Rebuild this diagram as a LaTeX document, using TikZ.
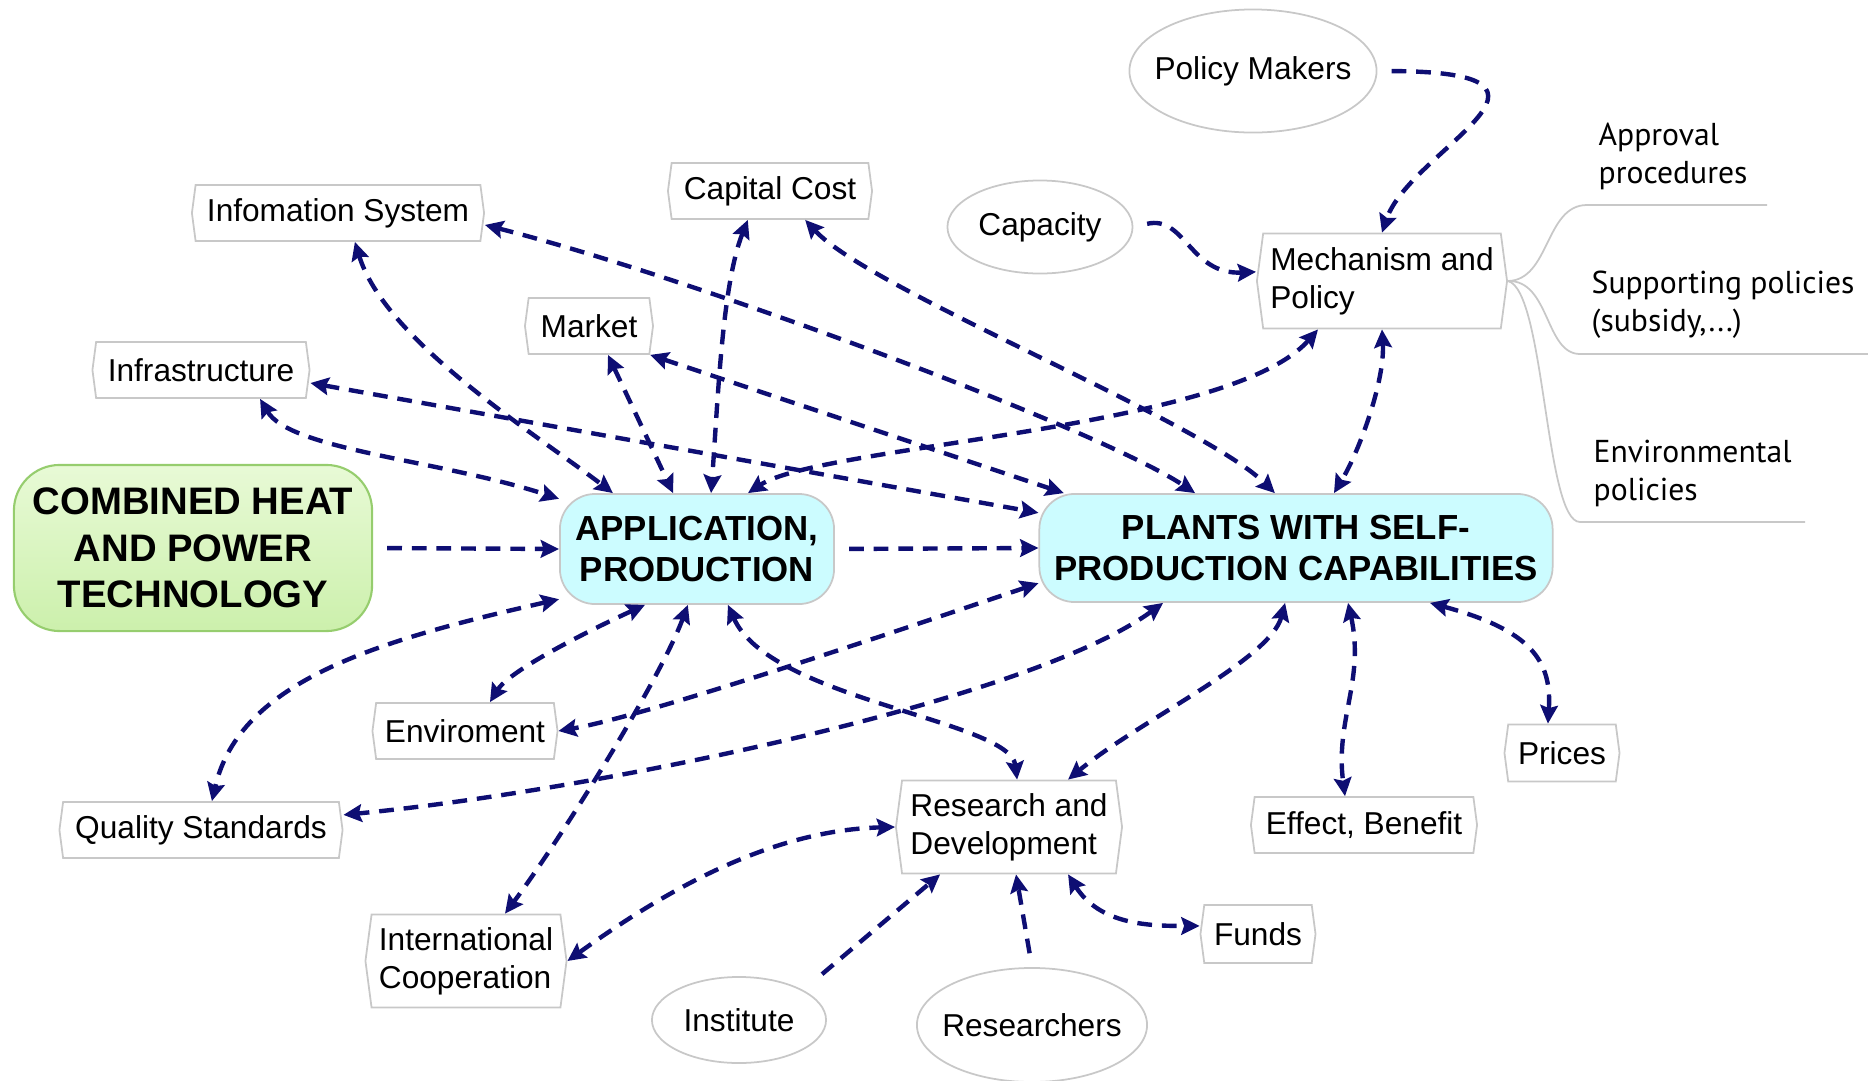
\documentclass[tikz,border=0pt]{standalone}
\usepackage{fontspec}
\setmainfont{Liberation Sans}
\newfontfamily\notefont{PT Sans}
\usetikzlibrary{arrows.meta, shapes.geometric, shapes.symbols}
\definecolor{linkblue}{RGB}{14,14,115}
\definecolor{boxgray}{RGB}{200,200,200}
\definecolor{coreblue}{RGB}{204,252,255}
\definecolor{roottop}{RGB}{232,250,214}
\definecolor{rootbottom}{RGB}{204,240,172}
\definecolor{rootline}{RGB}{150,205,110}
\tikzset{
    topic/.style={signal, signal to=east and west, signal pointer angle=165, draw=boxgray, line width=0.5pt, fill=white, inner xsep=2pt, inner ysep=1pt, font=\fontsize{9}{10.8}\selectfont},
    actor/.style={ellipse, draw=boxgray, line width=0.5pt, inner xsep=-12pt, inner ysep=0pt, font=\fontsize{9}{10.8}\selectfont},
    core/.style={rectangle, rounded corners=10pt, draw=boxgray, line width=0.5pt, fill=coreblue, align=center, font=\fontsize{9.9}{11.6}\selectfont\bfseries},
    root/.style={rectangle, rounded corners=13pt, draw=rootline, line width=0.6pt, top color=roottop, bottom color=rootbottom, align=center, font=\fontsize{10.9}{13.3}\selectfont\bfseries},
    link/.style={<->, > = {Stealth[length=5.2pt, width=5pt, inset=0.8pt]}, draw=linkblue, line width=1.25pt, dash pattern=on 4.2pt off 2.8pt},
    dlink/.style={->, > = {Stealth[length=5.2pt, width=5pt, inset=0.8pt]}, draw=linkblue, line width=1.25pt, dash pattern=on 4.2pt off 2.8pt, shorten <=4pt},
    branch/.style={draw=boxgray, line width=0.5pt},
    note/.style={anchor=west, align=left, inner sep=0pt, font=\notefont\fontsize{9}{10.8}\selectfont},
}

\begin{document}
\begin{tikzpicture}[x=0.01cm, y=-0.01cm]
    \useasboundingbox (0,0) rectangle (1868,1081);

    % main topics
    \node[root, minimum width=3.58cm, minimum height=1.66cm] (chp) at (193,548) {COMBINED HEAT\\AND POWER\\TECHNOLOGY};
    \node[core, minimum width=2.74cm, minimum height=1.10cm] (app) at (697,549) {APPLICATION,\\PRODUCTION};
    \node[core, minimum width=5.13cm, minimum height=1.08cm] (plant) at (1296,548) {PLANTS WITH SELF-\\PRODUCTION CAPABILITIES};

    % boxes
    \node[topic, minimum width=2.92cm, minimum height=0.56cm] (info) at (338,213) {Infomation System};
    \node[topic, minimum width=2.04cm, minimum height=0.56cm] (cc) at (770,191) {Capital Cost};
    \node[topic, minimum width=1.28cm, minimum height=0.56cm] (mkt) at (589,326) {Market};
    \node[topic, minimum width=2.17cm, minimum height=0.56cm] (infra) at (201,370) {Infrastructure};
    \node[topic, minimum width=2.50cm, minimum height=0.95cm, align=left] (mp) at (1382,281) {Mechanism and\\Policy};
    \node[topic, minimum width=1.85cm, minimum height=0.56cm] (env) at (465,731) {Enviroment};
    \node[topic, minimum width=1.15cm, minimum height=0.57cm] (price) at (1562,753) {Prices};
    \node[topic, minimum width=2.26cm, minimum height=0.93cm, align=left] (rd) at (1009,827) {Research and\\Development};
    \node[topic, minimum width=2.83cm, minimum height=0.56cm] (qs) at (201,830) {Quality Standards};
    \node[topic, minimum width=2.26cm, minimum height=0.56cm] (eff) at (1364,825) {Effect, Benefit};
    \node[topic, minimum width=1.15cm, minimum height=0.58cm] (fund) at (1258,934) {Funds};
    \node[topic, minimum width=2.01cm, minimum height=0.93cm, align=left] (ic) at (466,961) {International\\Cooperation};

    % actors
    \node[actor, minimum width=2.47cm, minimum height=1.23cm] (pm) at (1253,71) {Policy Makers};
    \node[actor, minimum width=1.85cm, minimum height=0.93cm] (cap) at (1040,227) {Capacity};
    \node[actor, minimum width=1.74cm, minimum height=0.86cm] (inst) at (739,1020) {Institute};
    \node[actor, minimum width=2.30cm, minimum height=1.14cm] (res) at (1032,1025) {Researchers};

    % policy branches
    \node[note] (appr) at (1598,156) {Approval\\procedures};
    \node[note] (supp) at (1591,305) {Supporting policies\\(subsidy,...)};
    \node[note] (envp) at (1593,473) {Environmental\\policies};
    \coordinate (appr1) at (1587,205);
    \coordinate (appr2) at (1767,205);
    \coordinate (supp1) at (1580,354);
    \coordinate (supp2) at (1868,354);
    \coordinate (envp1) at (1580,522);
    \coordinate (envp2) at (1805,522);
    \draw[branch] (mp.east) .. controls (1550,280) and (1545,205) .. (appr1) -- (appr2);
    \draw[branch] (mp.east) .. controls (1550,280) and (1545,354) .. (supp1) -- (supp2);
    \draw[branch] (mp.east) .. controls (1545,290) and (1545,522) .. (envp1) -- (envp2);

    % one-way links
    \draw[dlink] (pm.east) .. controls (1600,72) and (1410,150) .. (mp.north);
    \draw[dlink] (cap.east) .. controls (1185,215) and (1190,275) .. ([yshift=2.6pt]mp.west);
    \draw[dlink] (chp.east) -- (app.west);
    \draw[dlink] (app.east) -- (plant.west);
    \draw[dlink, shorten <=7pt] (inst.25) -- ([xshift=-19.6pt]rd.south);
    \draw[dlink] (res.north) -- ([xshift=2pt]rd.south);

    % two-way links round the application
    \draw[link] ([xshift=4.8pt]info.south) .. controls (385,340) and (530,430) .. ([xshift=-23.9pt]app.north);
    \draw[link] ([xshift=-6.3pt]cc.south) .. controls (722,285) and (718,400) .. ([xshift=4pt]app.north);
    \draw[link] ([xshift=5.4pt]mkt.south) -- ([xshift=-6.8pt]app.north);
    \draw[link] ([xshift=16.8pt]infra.south) .. controls (290,450) and (440,460) .. (app.160);
    \draw[link] ([xshift=-18.2pt]mp.south) .. controls (1230,430) and (820,445) .. ([xshift=14.5pt]app.north);
    \draw[link] (app.200) .. controls (380,640) and (240,680) .. ([xshift=3.1pt]qs.north);
    \draw[link] ([xshift=-14.8pt]app.south) .. controls (590,630) and (510,670) .. ([xshift=7.1pt]env.north);
    \draw[link] ([xshift=-2.6pt]app.south) .. controls (660,680) and (560,840) .. ([xshift=11.1pt]ic.north);
    \draw[link] ([xshift=8.8pt]app.south) .. controls (770,700) and (1010,720) .. ([xshift=2.3pt]rd.north);

    % two-way links round the plants
    \draw[link] ([yshift=-3.7pt]infra.east) -- ([yshift=10pt]plant.west);
    \draw[link] ([yshift=-3.4pt]info.east) .. controls (700,280) and (1100,430) .. ([xshift=-28.7pt]plant.north);
    \draw[link] ([xshift=10pt]cc.south) .. controls (870,290) and (1200,420) .. ([xshift=-6pt]plant.north);
    \draw[link] (mkt.south east) -- ([xshift=-66pt]plant.north);
    \draw[link] (mp.south) .. controls (1385,380) and (1360,450) .. ([xshift=10.8pt]plant.north);
    \draw[link] ([yshift=-10pt]plant.west) .. controls (900,630) and (650,715) .. (env.east);
    \draw[link] ([xshift=-37.8pt]plant.south) .. controls (1030,700) and (600,790) .. ([yshift=4.3pt]qs.east);
    \draw[link] ([xshift=-3.1pt]plant.south) .. controls (1270,660) and (1140,720) .. ([xshift=16.8pt]rd.north);
    \draw[link] ([xshift=14.8pt]plant.south) .. controls (1365,680) and (1335,720) .. ([xshift=-5.4pt]eff.north);
    \draw[link] ([xshift=38.1pt]plant.south) .. controls (1530,630) and (1552,660) .. ([xshift=-4pt]price.north);

    % research links
    \draw[link] (ic.east) .. controls (680,880) and (780,830) .. (rd.west);
    \draw[link] ([xshift=16.8pt]rd.south) .. controls (1100,925) and (1150,926) .. ([yshift=2.3pt]fund.west);
\end{tikzpicture}
\end{document}
